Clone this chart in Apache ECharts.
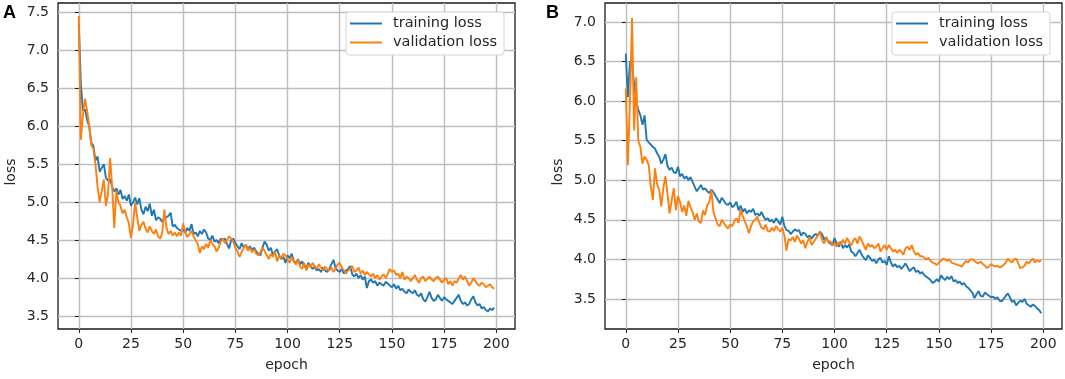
<!DOCTYPE html>
<html>
<head>
<meta charset="utf-8">
<script src="https://cdn.jsdelivr.net/npm/echarts@6/dist/echarts.min.js"></script>
<style>
    html, body { margin: 0; padding: 0; background: #fff; }
    #lossChart { width: 1065px; height: 379px; }
</style>
</head>
<body>
<div id="lossChart"></div>
<script>
// epoch ticks and loss ticks
var xTicks = [0, 25, 50, 75, 100, 125, 150, 175, 200];
var yTicksA = [3.5, 4.0, 4.5, 5.0, 5.5, 6.0, 6.5, 7.0, 7.5];
var yTicksB = [3.5, 4.0, 4.5, 5.0, 5.5, 6.0, 6.5, 7.0];
var seriesNames = ['training loss', 'validation loss'];

// panel A, one value per epoch (0..199)
var trainA = [
    7.35, 6.55, 6.2, 6.22, 6.08, 6.0, 5.78, 5.74, 5.55, 5.6,
    5.4, 5.45, 5.5, 5.32, 5.28, 5.3, 5.2, 5.14, 5.18, 5.1,
    5.16, 5.04, 5.08, 5.02, 5.1, 4.95, 5.0, 5.06, 4.97, 5.05,
    4.9, 4.84, 4.94, 4.88, 4.98, 4.82, 4.9, 4.76, 4.8, 4.78,
    4.74, 4.79, 4.8, 4.82, 4.86, 4.68, 4.7, 4.66, 4.64, 4.62,
    4.64, 4.6, 4.66, 4.62, 4.71, 4.58, 4.6, 4.55, 4.62, 4.58,
    4.64, 4.6, 4.52, 4.5, 4.56, 4.48, 4.5, 4.46, 4.52, 4.5,
    4.52, 4.45, 4.39, 4.5, 4.52, 4.46, 4.42, 4.38, 4.46, 4.4,
    4.44, 4.38, 4.42, 4.37, 4.4, 4.35, 4.32, 4.3, 4.4, 4.48,
    4.44, 4.36, 4.4, 4.3, 4.35, 4.38, 4.3, 4.25, 4.28, 4.2,
    4.3, 4.26, 4.32, 4.22, 4.2, 4.25, 4.18, 4.22, 4.15, 4.14,
    4.2, 4.16, 4.12, 4.15, 4.1, 4.12, 4.08, 4.14, 4.1, 4.08,
    4.12, 4.18, 4.24, 4.13, 4.1, 4.08, 4.12, 4.06, 4.1, 4.12,
    4.16, 4.05, 4.02, 4.06, 4.0, 4.04, 3.98, 4.02, 3.87, 3.96,
    3.98, 3.94, 3.96, 3.9, 3.94, 3.92, 3.9, 3.95, 3.93, 3.9,
    3.88, 3.92, 3.86, 3.9, 3.84, 3.86, 3.82, 3.8, 3.85, 3.82,
    3.8, 3.84, 3.78, 3.76, 3.8, 3.72, 3.69, 3.75, 3.82, 3.74,
    3.7, 3.72, 3.78, 3.74, 3.7, 3.75, 3.72, 3.7, 3.68, 3.66,
    3.7, 3.74, 3.78, 3.7, 3.66, 3.68, 3.64, 3.66, 3.72, 3.76,
    3.68, 3.64, 3.66, 3.6, 3.62, 3.58, 3.56, 3.6, 3.58, 3.61
];
var valA = [
    7.45, 5.82, 6.15, 6.36, 6.2, 6.0, 5.75, 5.7, 5.5, 5.2,
    5.0, 5.15, 5.3, 4.95, 5.1, 5.58, 5.2, 4.66, 5.15, 5.0,
    4.95, 4.85, 4.9, 4.8, 4.72, 4.53, 4.7, 5.0, 4.8, 4.62,
    4.7, 4.74, 4.65, 4.6, 4.68, 4.62, 4.58, 4.64, 4.55, 4.52,
    4.6, 4.9, 4.66, 4.58, 4.62, 4.56, 4.6, 4.55, 4.6, 4.56,
    4.72, 4.6, 4.54, 4.58, 4.62, 4.55, 4.5, 4.45, 4.33, 4.42,
    4.38, 4.45, 4.4, 4.5, 4.45, 4.42, 4.35, 4.4, 4.48, 4.52,
    4.46, 4.5, 4.55, 4.52, 4.48, 4.4, 4.35, 4.28, 4.34, 4.4,
    4.44, 4.36, 4.4, 4.34, 4.38, 4.32, 4.3, 4.34, 4.4, 4.36,
    4.3, 4.25, 4.32, 4.28, 4.35, 4.22, 4.3, 4.26, 4.32, 4.3,
    4.25, 4.2, 4.28, 4.22, 4.18, 4.24, 4.15, 4.12, 4.2, 4.1,
    4.18, 4.14, 4.2, 4.16, 4.12, 4.18, 4.14, 4.1, 4.15, 4.12,
    4.1, 4.14, 4.08, 4.12, 4.18, 4.2, 4.14, 4.1, 4.06, 4.1,
    4.12, 4.16, 4.08, 4.1, 4.14, 4.06, 4.1, 4.04, 4.08, 4.05,
    4.02, 4.06, 4.0, 4.04, 3.98, 4.02, 4.05, 4.0, 4.06, 4.12,
    4.08, 4.1, 4.04, 4.06, 4.0, 4.08, 3.98, 4.02, 4.0, 3.96,
    4.0, 4.04, 3.98, 3.94, 4.0, 4.02, 3.96, 3.99, 4.02, 3.98,
    3.96, 4.0, 4.02, 3.98, 3.94, 3.98, 4.0, 3.92, 3.96, 3.9,
    3.96, 3.94, 4.0, 4.04, 3.98, 4.02, 3.96, 3.9, 3.94, 4.0,
    3.96, 3.92, 3.9, 3.94, 3.92, 3.88, 3.9, 3.92, 3.88, 3.86
];

// panel B
var trainB = [
    6.6, 6.05, 6.5, 6.45, 6.22, 6.0, 5.89, 5.82, 5.7, 5.82,
    5.51, 5.48, 5.45, 5.42, 5.4, 5.34, 5.3, 5.21, 5.26, 5.33,
    5.18, 5.13, 5.16, 5.1, 5.09, 5.17, 5.05, 5.08, 5.02, 5.05,
    5.0, 5.04, 4.98, 4.92, 4.86, 4.9, 4.94, 4.88, 4.9, 4.86,
    4.84, 4.88, 4.85, 4.8, 4.76, 4.71, 4.78, 4.74, 4.7, 4.69,
    4.72, 4.66, 4.68, 4.73, 4.62, 4.68, 4.6, 4.64, 4.58, 4.62,
    4.6, 4.64, 4.56, 4.58, 4.55, 4.6, 4.54, 4.5, 4.52, 4.48,
    4.5, 4.46, 4.52, 4.48, 4.44, 4.54, 4.42, 4.37, 4.36, 4.32,
    4.35, 4.38, 4.36, 4.37, 4.3, 4.34, 4.32, 4.28, 4.3, 4.26,
    4.3, 4.32, 4.3, 4.35, 4.32, 4.25, 4.28, 4.22, 4.2, 4.18,
    4.27, 4.2, 4.16, 4.22, 4.14, 4.18, 4.15, 4.19, 4.1, 4.08,
    4.04, 4.08, 4.12, 4.06, 4.02, 3.99, 4.05, 4.02, 3.98, 4.0,
    3.95, 4.0, 4.02, 3.96, 3.98, 3.93, 4.04, 3.96, 3.91, 3.94,
    3.9, 3.92, 3.88, 3.91, 3.95, 3.9, 3.85, 3.88, 3.9, 3.84,
    3.86, 3.82, 3.84, 3.8, 3.78, 3.76, 3.74, 3.7, 3.72, 3.75,
    3.72, 3.8, 3.76, 3.74, 3.78, 3.75, 3.79, 3.72, 3.74, 3.7,
    3.72, 3.68, 3.7, 3.66, 3.64, 3.61, 3.58, 3.51, 3.56, 3.6,
    3.54, 3.53, 3.58, 3.56, 3.54, 3.52, 3.53, 3.5, 3.52, 3.48,
    3.47, 3.5, 3.54, 3.57, 3.52, 3.46, 3.48, 3.42, 3.45, 3.48,
    3.46, 3.5, 3.44, 3.42, 3.4, 3.43, 3.41, 3.38, 3.36, 3.32
];
var valB = [
    6.16, 5.19, 6.0, 7.05, 5.63, 6.3, 5.5, 5.42, 5.21, 5.3,
    5.26, 5.19, 4.92, 4.75, 5.15, 4.95, 4.88, 4.67, 4.9, 5.05,
    4.82, 4.58, 4.75, 4.9, 4.62, 4.8, 4.72, 4.6, 4.68, 4.55,
    4.74, 4.66, 4.6, 4.5, 4.58, 4.48, 4.46, 4.62, 4.56, 4.68,
    4.72, 4.88, 4.6, 4.52, 4.44, 4.42, 4.5, 4.46, 4.42, 4.39,
    4.44, 4.42, 4.48, 4.52, 4.46, 4.63, 4.55, 4.48, 4.42, 4.33,
    4.42, 4.48, 4.5, 4.54, 4.46, 4.4, 4.38, 4.44, 4.36, 4.35,
    4.4, 4.36, 4.42, 4.38, 4.35, 4.4, 4.3, 4.11, 4.26, 4.24,
    4.28, 4.22, 4.3, 4.26, 4.2, 4.24, 4.14, 4.22, 4.28, 4.18,
    4.22, 4.26, 4.3, 4.35, 4.25, 4.2, 4.28, 4.22, 4.23, 4.18,
    4.2, 4.16, 4.22, 4.18, 4.25, 4.2, 4.27, 4.22, 4.18, 4.24,
    4.27, 4.2, 4.29, 4.24, 4.18, 4.12, 4.2, 4.16, 4.18, 4.14,
    4.16, 4.2, 4.1, 4.14, 4.18, 4.12, 4.18, 4.14, 4.1, 4.12,
    4.08, 4.12, 4.1, 4.06, 4.14, 4.16, 4.12, 4.18, 4.1, 4.06,
    4.08, 4.04, 4.04, 4.02, 4.0, 4.02, 3.98, 3.96, 3.95, 3.93,
    3.96, 3.98, 4.01, 4.0, 3.98, 4.0, 3.96, 3.95, 3.94, 3.93,
    3.92, 3.91, 3.95, 3.98, 3.96, 4.0, 4.0, 3.98, 3.96, 3.95,
    3.97, 3.94, 3.92, 3.89, 3.91, 3.94, 3.92, 3.91, 3.92, 3.9,
    3.91, 3.93, 3.96, 4.01, 3.98, 3.96, 4.0, 4.01, 3.95, 3.89,
    3.9, 3.92, 3.97, 3.95, 3.98, 4.01, 3.96, 3.99, 3.97, 3.99
];

var blue = '#1f77b4';
var orange = '#ff7f0e';
var textColor = '#262626';
var fontName = 'DejaVu Sans';

function pairs(arr) {
    return arr.map(function (v, i) { return [i, v]; });
}

function makeX(idx) {
    return {
        type: 'value', gridIndex: idx,
        min: -9.95, max: 208.95,
        name: 'epoch', nameLocation: 'middle', nameGap: 29,
        nameTextStyle: { color: textColor, fontFamily: fontName, fontSize: 14 },
        axisLine: { show: false },
        axisTick: { show: true, length: 4, customValues: xTicks, lineStyle: { color: '#222' } },
        axisLabel: { customValues: xTicks, margin: 8, color: textColor, fontFamily: fontName, fontSize: 14 },
        splitLine: { show: true, lineStyle: { color: '#bebebe', width: 1.4 } }
    };
}

function makeY(idx, lo, hi, ticks) {
    return {
        type: 'value', gridIndex: idx,
        min: lo, max: hi,
        name: 'loss', nameLocation: 'middle', nameGap: 40,
        nameTextStyle: { color: textColor, fontFamily: fontName, fontSize: 14, padding: [0, 0, 0, -12] },
        axisLine: { show: false },
        axisTick: { show: true, length: 4, customValues: ticks, lineStyle: { color: '#222' } },
        axisLabel: { customValues: ticks, margin: 9, color: textColor, fontFamily: fontName, fontSize: 14,
            formatter: function (v) { return v.toFixed(1); } },
        splitLine: { show: true, lineStyle: { color: '#bebebe', width: 1.4 } }
    };
}

function makeLine(name, data, color, idx) {
    return {
        name: name, type: 'line', data: pairs(data),
        xAxisIndex: idx, yAxisIndex: idx,
        symbol: 'none', smooth: false,
        lineStyle: { color: color, width: 1.9 },
        itemStyle: { color: color }
    };
}

function makeLegend(left) {
    return {
        data: seriesNames, orient: 'vertical',
        left: left, top: 12,
        padding: [4, 7, 5, 4], itemGap: 4,
        itemWidth: 32, itemHeight: 2, icon: 'rect',
        backgroundColor: '#fff', borderColor: '#d4d4d4', borderWidth: 1, borderRadius: 3,
        textStyle: { color: textColor, fontFamily: fontName, fontSize: 14.5, padding: [0, 0, 0, 6] }
    };
}

var lossChart = echarts.init(document.getElementById('lossChart'));
var option = {
    backgroundColor: '#fff',
    animation: false,
    grid: [
        { left: 58, top: 3, width: 457, height: 326, show: true, borderColor: '#1a1a1a', borderWidth: 1.3 },
        { left: 605, top: 3, width: 457, height: 326, show: true, borderColor: '#1a1a1a', borderWidth: 1.3 }
    ],
    xAxis: [makeX(0), makeX(1)],
    yAxis: [makeY(0, 3.33, 7.62, yTicksA), makeY(1, 3.12, 7.24, yTicksB)],
    legend: [makeLegend(346), makeLegend(892)],
    graphic: [
        { type: 'text', left: 3, top: 4, style: { text: 'A', fill: '#000', font: 'bold 18px "Liberation Sans"' } },
        { type: 'text', left: 546, top: 4, style: { text: 'B', fill: '#000', font: 'bold 18px "Liberation Sans"' } }
    ],
    series: [
        makeLine(seriesNames[0], trainA, blue, 0),
        makeLine(seriesNames[1], valA, orange, 0),
        makeLine(seriesNames[0], trainB, blue, 1),
        makeLine(seriesNames[1], valB, orange, 1)
    ]
};
lossChart.setOption(option);
window.addEventListener("resize", function () {
    lossChart.resize();
});
</script>
</body>
</html>
